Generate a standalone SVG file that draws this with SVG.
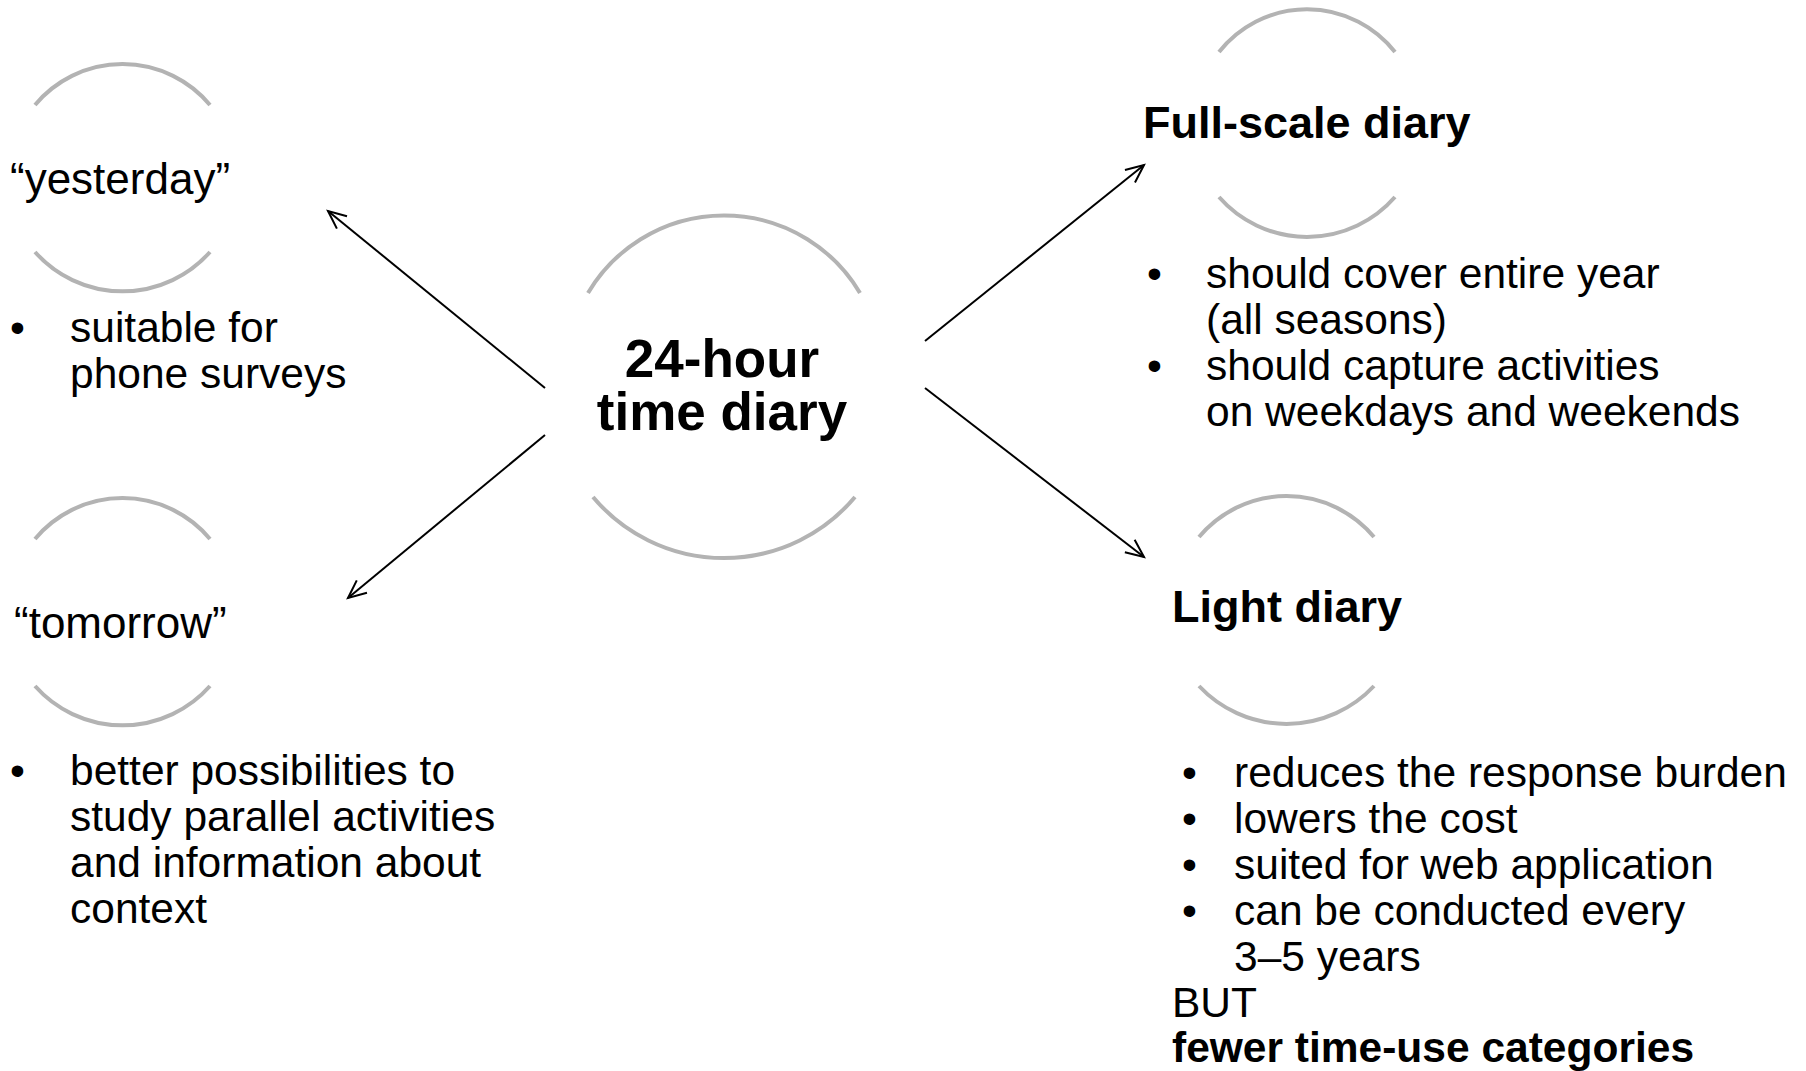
<svg xmlns="http://www.w3.org/2000/svg" width="1806" height="1071" viewBox="0 0 1806 1071">
<defs>
<style>
.arc{fill:none;stroke:#b3b3b3;stroke-width:4}
.t{font-family:"Liberation Sans",Arial,sans-serif;font-size:42.5px;fill:#000}
.lbl{font-family:"Liberation Sans",Arial,sans-serif;font-size:44px;fill:#000}
.b{font-family:"Liberation Sans",Arial,sans-serif;font-size:45px;font-weight:bold;fill:#000}
.c{font-family:"Liberation Sans",Arial,sans-serif;font-size:53px;font-weight:bold;fill:#000;text-anchor:middle}
.con{stroke:#000;stroke-width:2;fill:none;marker-end:url(#ah)}
</style>
<marker id="ah" markerWidth="24" markerHeight="24" refX="20" refY="12" orient="auto" markerUnits="userSpaceOnUse">
<path d="M2,4 L20,12 L2,20" fill="none" stroke="#000" stroke-width="2"/>
</marker>
</defs>
<rect width="1806" height="1071" fill="#fff"/>
<g id="connectors">
<line class="con" x1="545" y1="388" x2="328" y2="211"/>
<line class="con" x1="545" y1="435" x2="348" y2="598"/>
<line class="con" x1="925" y1="341" x2="1144" y2="165"/>
<line class="con" x1="925" y1="388" x2="1144" y2="557"/>
</g>
<g id="center">
<path class="arc" d="M588,293 A158,158 0 0 1 860,293"/>
<path class="arc" d="M593,497 A171,171 0 0 0 855,497"/>
<text class="c" x="722" y="377">24-hour</text>
<text class="c" x="722" y="430">time diary</text>
</g>
<g id="yesterday">
<path class="arc" d="M35,105 A114,114 0 0 1 210,105"/>
<path class="arc" d="M35,252 A117,117 0 0 0 210,252"/>
<text class="lbl" x="10" y="194">“yesterday”</text>
<text class="t" x="10" y="342">•</text>
<text class="t" x="70" y="342">suitable for</text>
<text class="t" x="70" y="388">phone surveys</text>
</g>
<g id="tomorrow">
<path class="arc" d="M35,539 A114,114 0 0 1 210,539"/>
<path class="arc" d="M35,686 A117,117 0 0 0 210,686"/>
<text class="lbl" x="14" y="638" font-size="45">“tomorrow”</text>
<text class="t" x="10" y="785">•</text>
<text class="t" x="70" y="785">better possibilities to</text>
<text class="t" x="70" y="831">study parallel activities</text>
<text class="t" x="70" y="877">and information about</text>
<text class="t" x="70" y="923">context</text>
</g>
<g id="fullscale">
<path class="arc" d="M1219,52 A112,112 0 0 1 1395,52"/>
<path class="arc" d="M1219,197 A117,117 0 0 0 1395,197"/>
<text class="b" x="1143" y="138">Full-scale diary</text>
<text class="t" x="1147" y="288">•</text>
<text class="t" x="1206" y="288">should cover entire year</text>
<text class="t" x="1206" y="334">(all seasons)</text>
<text class="t" x="1147" y="380">•</text>
<text class="t" x="1206" y="380">should capture activities</text>
<text class="t" x="1206" y="426">on weekdays and weekends</text>
</g>
<g id="light">
<path class="arc" d="M1199,537 A114,114 0 0 1 1374,537"/>
<path class="arc" d="M1199,686 A120,120 0 0 0 1374,686"/>
<text class="b" x="1172" y="622">Light diary</text>
<text class="t" x="1182" y="787">•</text>
<text class="t" x="1234" y="787">reduces the response burden</text>
<text class="t" x="1182" y="833">•</text>
<text class="t" x="1234" y="833">lowers the cost</text>
<text class="t" x="1182" y="879">•</text>
<text class="t" x="1234" y="879">suited for web application</text>
<text class="t" x="1182" y="925">•</text>
<text class="t" x="1234" y="925">can be conducted every</text>
<text class="t" x="1234" y="971">3–5 years</text>
<text class="t" x="1172" y="1017">BUT</text>
<text class="t" x="1172" y="1062" font-weight="bold">fewer time-use categories</text>
</g>
</svg>
